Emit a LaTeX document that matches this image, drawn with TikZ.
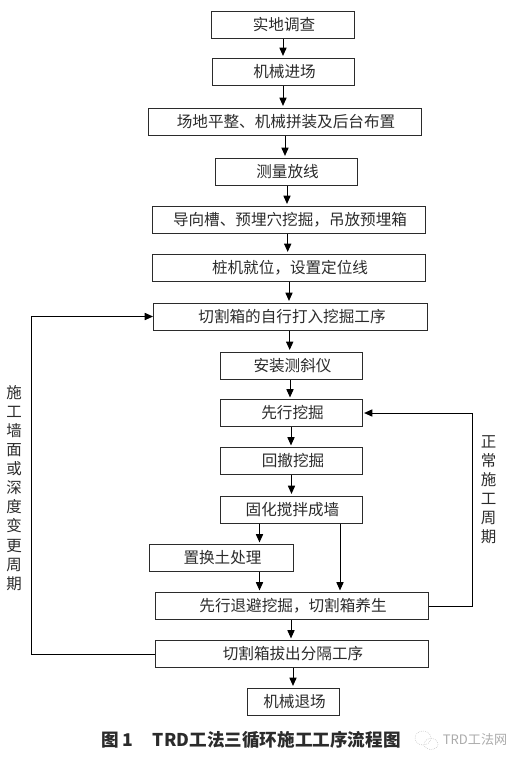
\documentclass[tikz,border=0pt]{standalone}
\usepackage{fontspec}
\setmainfont{Noto Sans CJK SC}
\usetikzlibrary{arrows.meta}

\definecolor{inkdark}{HTML}{2B2B2B}
\definecolor{markgray}{HTML}{ABABAB}

\tikzset{
  stepbox/.style={draw=inkdark, line width=0.75pt, minimum width=#1*0.75pt, minimum height=27*0.75pt, inner sep=0pt, text=inkdark, execute at begin node=\hspace{2.25pt}},
  flowline/.style={->, draw=black, line width=0.75pt, shorten >=1.2pt},
  sidetext/.style={align=center, text=inkdark, font=\fontsize{11.6}{14.3}\selectfont}
}

\begin{document}
\begin{tikzpicture}[x=0.75pt, y=-0.75pt, font=\fontsize{11.7}{14}\selectfont, >={Stealth[length=6.2pt, width=5.4pt, inset=0pt]}]

  \useasboundingbox (0,0) rectangle (524,764);

  % main column of steps
  \node[stepbox=143] (survey)  at (282.5, 24.5) {实地调查};
  \node[stepbox=142] (enter)   at (283, 71.5) {机械进场};
  \node[stepbox=273] (level)   at (284.5, 121.5) {场地平整、机械拼装及后台布置};
  \node[stepbox=142] (measure) at (286, 171.5) {测量放线};
  \node[stepbox=273] (guide)   at (288.5, 219.5) {导向槽、预埋穴挖掘，吊放预埋箱};
  \node[stepbox=273] (locate)  at (288.5, 267.5) {桩机就位，设置定位线};
  \node[stepbox=274] (drive)   at (290.5, 316.5) {切割箱的自行打入挖掘工序};
  \node[stepbox=142] (incl)    at (291, 365.5) {安装测斜仪};
  \node[stepbox=142] (dig)     at (291, 413) {先行挖掘};
  \node[stepbox=142] (back)    at (291.5, 461) {回撤挖掘};
  \node[stepbox=142] (mix)     at (291, 509.5) {固化搅拌成墙};
  \node[stepbox=144] (soil)    at (221, 558) {置换土处理};
  \node[stepbox=273] (retreat) at (291.5, 606) {先行退避挖掘，切割箱养生};
  \node[stepbox=273] (pull)    at (291.5, 654) {切割箱拔出分隔工序};
  \node[stepbox=92]  (leave)   at (293, 701.5) {机械退场};

  % straight steps, each at its own x
  \foreach \a/\b/\x in {survey/enter/283, enter/level/283, level/measure/285, measure/guide/287, guide/locate/287.7,
                     locate/drive/289, drive/incl/289.7, incl/dig/290, dig/back/291, back/mix/291.5, retreat/pull/291, pull/leave/293}{
    \coordinate (col) at (\x, 0);
    \draw[flowline] (\a.south -| col) -- (\b.north -| col);
  }

  % branch below the mixing step
  \coordinate (mixleft) at (259.5, 0);
  \coordinate (mixright) at (340, 0);
  \draw[flowline] (mix.south -| mixleft) -- (soil.north -| mixleft);
  \draw[flowline] (soil.south -| mixleft) -- (retreat.north -| mixleft);
  \draw[flowline] (mix.south -| mixright) -- (retreat.north -| mixright);

  % return loops
  \coordinate (looplong) at (31, 0);
  \coordinate (loopshort) at (472, 0);
  \draw[flowline, shorten >=0pt] (pull.west) -- (pull.west -| looplong) -- (drive.west -| looplong) -- (drive.west);
  \draw[flowline] (retreat.east) -- (retreat.east -| loopshort) -- (dig.east -| loopshort) -- (dig.east);

  \node[sidetext] (longlabel) at (14, 488) {施\\工\\墙\\面\\或\\深\\度\\变\\更\\周\\期};
  \node[sidetext] (shortlabel) at (488.5, 489.5) {正\\常\\施\\工\\周\\期};

  % caption and mark
  \node[font=\fontsize{13.2}{15}\selectfont\bfseries, text=inkdark] (caption) at (251, 739.5) {图 1\hspace{1.1em}TRD工法三循环施工工序流程图};
  \node[font=\fontsize{9.8}{11}\selectfont, text=markgray] (mark) at (475, 740) {TRD工法网};
  \draw[markgray, line width=0.4pt, densely dotted] (423, 738) ellipse (8 and 7);
  \draw[markgray, line width=0.4pt, densely dotted] (431, 744) ellipse (7 and 5.5);

\end{tikzpicture}
\end{document}
